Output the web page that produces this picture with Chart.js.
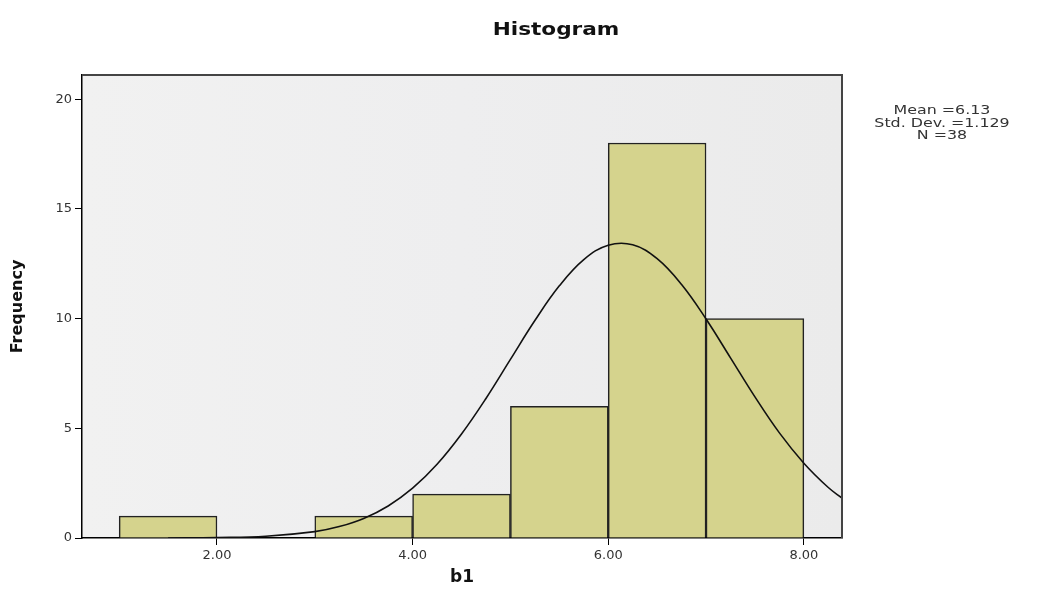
<!DOCTYPE html>
<html>
<head>
<meta charset="utf-8">
<script src="https://cdn.jsdelivr.net/npm/chart.js@4"></script>
<style>
  html, body { margin: 0; padding: 0; background: #fff; }
  #wrap { width: 1059px; height: 597px; }
</style>
</head>
<body>
<div id="wrap"><canvas id="histChart"></canvas></div>
<script>
// bins of b1 (centre of each 1-wide bin) and their counts
const binCenters = [1.5, 2.5, 3.5, 4.5, 5.5, 6.5, 7.5];
const frequencies = [1, 0, 1, 2, 6, 18, 10];

// normal curve
const curveX = [1.5, 2, 2.5, 3, 3.25, 3.5, 3.75, 4, 4.25, 4.5, 4.75, 5, 5.25, 5.5, 5.75,
                6, 6.25, 6.5, 6.75, 7, 7.25, 7.5, 7.75, 8, 8.25, 8.39];
const curveY = [0.00, 0.02, 0.08, 0.29, 0.52, 0.89, 1.46, 2.27, 3.36, 4.74, 6.36, 8.14, 9.91, 11.49, 12.69,
                13.34, 13.36, 12.73, 11.55, 9.98, 8.21, 6.43, 4.79, 3.41, 2.30, 1.82];

const xTicks = [2, 4, 6, 8];
const yTicks = [0, 5, 10, 15, 20];
const chartTitle = 'Histogram';
const statsLines = ['Mean =6.13', 'Std. Dev. =1.129', 'N =38'];

const FONT = "'DejaVu Sans', Arial, sans-serif";

// grey plot background, box border, title and the stats text
const decorations = {
    id: 'decorations',
    beforeDraw(chart) {
        const {ctx, chartArea: a} = chart;
        ctx.save();
        const g = ctx.createLinearGradient(a.left, 0, a.right, 0);
        g.addColorStop(0, '#f1f1f1');
        g.addColorStop(0.5, '#eeeeef');
        g.addColorStop(1, '#ebebeb');
        ctx.fillStyle = g;
        ctx.fillRect(a.left, a.top, a.right - a.left, a.bottom - a.top);
        ctx.restore();
    },
    afterDraw(chart) {
        const {ctx, chartArea: a} = chart;
        ctx.save();
        ctx.strokeStyle = '#444';
        ctx.lineWidth = 2;
        ctx.beginPath();
        ctx.moveTo(a.left, a.top);
        ctx.lineTo(a.right, a.top);
        ctx.lineTo(a.right, a.bottom);
        ctx.stroke();

        ctx.fillStyle = '#111';
        ctx.font = 'bold 18px ' + FONT;
        ctx.textAlign = 'center';
        ctx.textBaseline = 'middle';
        ctx.save();
        ctx.translate(556, 30);
        ctx.scale(1.2, 1);
        ctx.fillText(chartTitle, 0, 0);
        ctx.restore();

        ctx.fillStyle = '#333';
        ctx.font = '13px ' + FONT;
        statsLines.forEach((t, i) => {
            ctx.save();
            ctx.translate(942, 111 + i * 12.5);
            ctx.scale(1.22, 1);
            ctx.fillText(t, 0, 0);
            ctx.restore();
        });
        ctx.restore();
    }
};

const ctx = document.getElementById('histChart').getContext('2d');
new Chart(ctx, {
    type: 'bar',
    data: {
        datasets: [{
            type: 'line',
            data: curveX.map((x, i) => ({x: x, y: curveY[i]})),
            borderColor: '#111',
            borderWidth: 1.6,
            pointRadius: 0,
            fill: false,
            tension: 0.4,
            order: 0
        }, {
            type: 'bar',
            data: binCenters.map((x, i) => ({x: x, y: frequencies[i]})),
            backgroundColor: '#d5d38d',
            borderColor: '#222',
            borderWidth: 1.5,
            borderSkipped: 'bottom',
            barPercentage: 1,
            categoryPercentage: 1,
            order: 1
        }]
    },
    options: {
        responsive: true,
        maintainAspectRatio: false,
        animation: false,
        layout: { padding: { left: 0, right: 217, top: 75, bottom: 0 } },
        plugins: {
            legend: { display: false },
            tooltip: { enabled: false },
            title: { display: false }
        },
        scales: {
            x: {
                type: 'linear',
                offset: false,
                min: 0.62,
                max: 8.39,
                afterBuildTicks: (s) => { s.ticks = xTicks.map(v => ({value: v})); },
                afterFit: (s) => { s.height = 59; },
                ticks: {
                    color: '#333',
                    font: { family: FONT, size: 13 },
                    padding: 3,
                    maxRotation: 0,
                    callback: (v) => Number(v).toFixed(2)
                },
                grid: { offset: false, drawOnChartArea: false, drawTicks: true, tickLength: 7, color: '#000' },
                border: { color: '#000', width: 1.5 },
                title: {
                    display: true,
                    text: 'b1',
                    color: '#111',
                    font: { family: FONT, size: 17, weight: 'bold', lineHeight: '20px' },
                    padding: { top: 0, bottom: 9 }
                }
            },
            y: {
                min: 0,
                max: 21.1,
                afterBuildTicks: (s) => { s.ticks = yTicks.map(v => ({value: v})); },
                afterFit: (s) => { s.width = 82; },
                ticks: {
                    color: '#333',
                    font: { family: FONT, size: 13 },
                    padding: 3
                },
                grid: { drawOnChartArea: false, drawTicks: true, tickLength: 7, color: '#000' },
                border: { color: '#000', width: 1.5 },
                title: {
                    display: true,
                    text: 'Frequency',
                    color: '#111',
                    font: { family: FONT, size: 16, weight: 'bold', lineHeight: '20px' },
                    padding: { top: 8, bottom: 0 }
                }
            }
        }
    },
    plugins: [decorations]
});
</script>
</body>
</html>
